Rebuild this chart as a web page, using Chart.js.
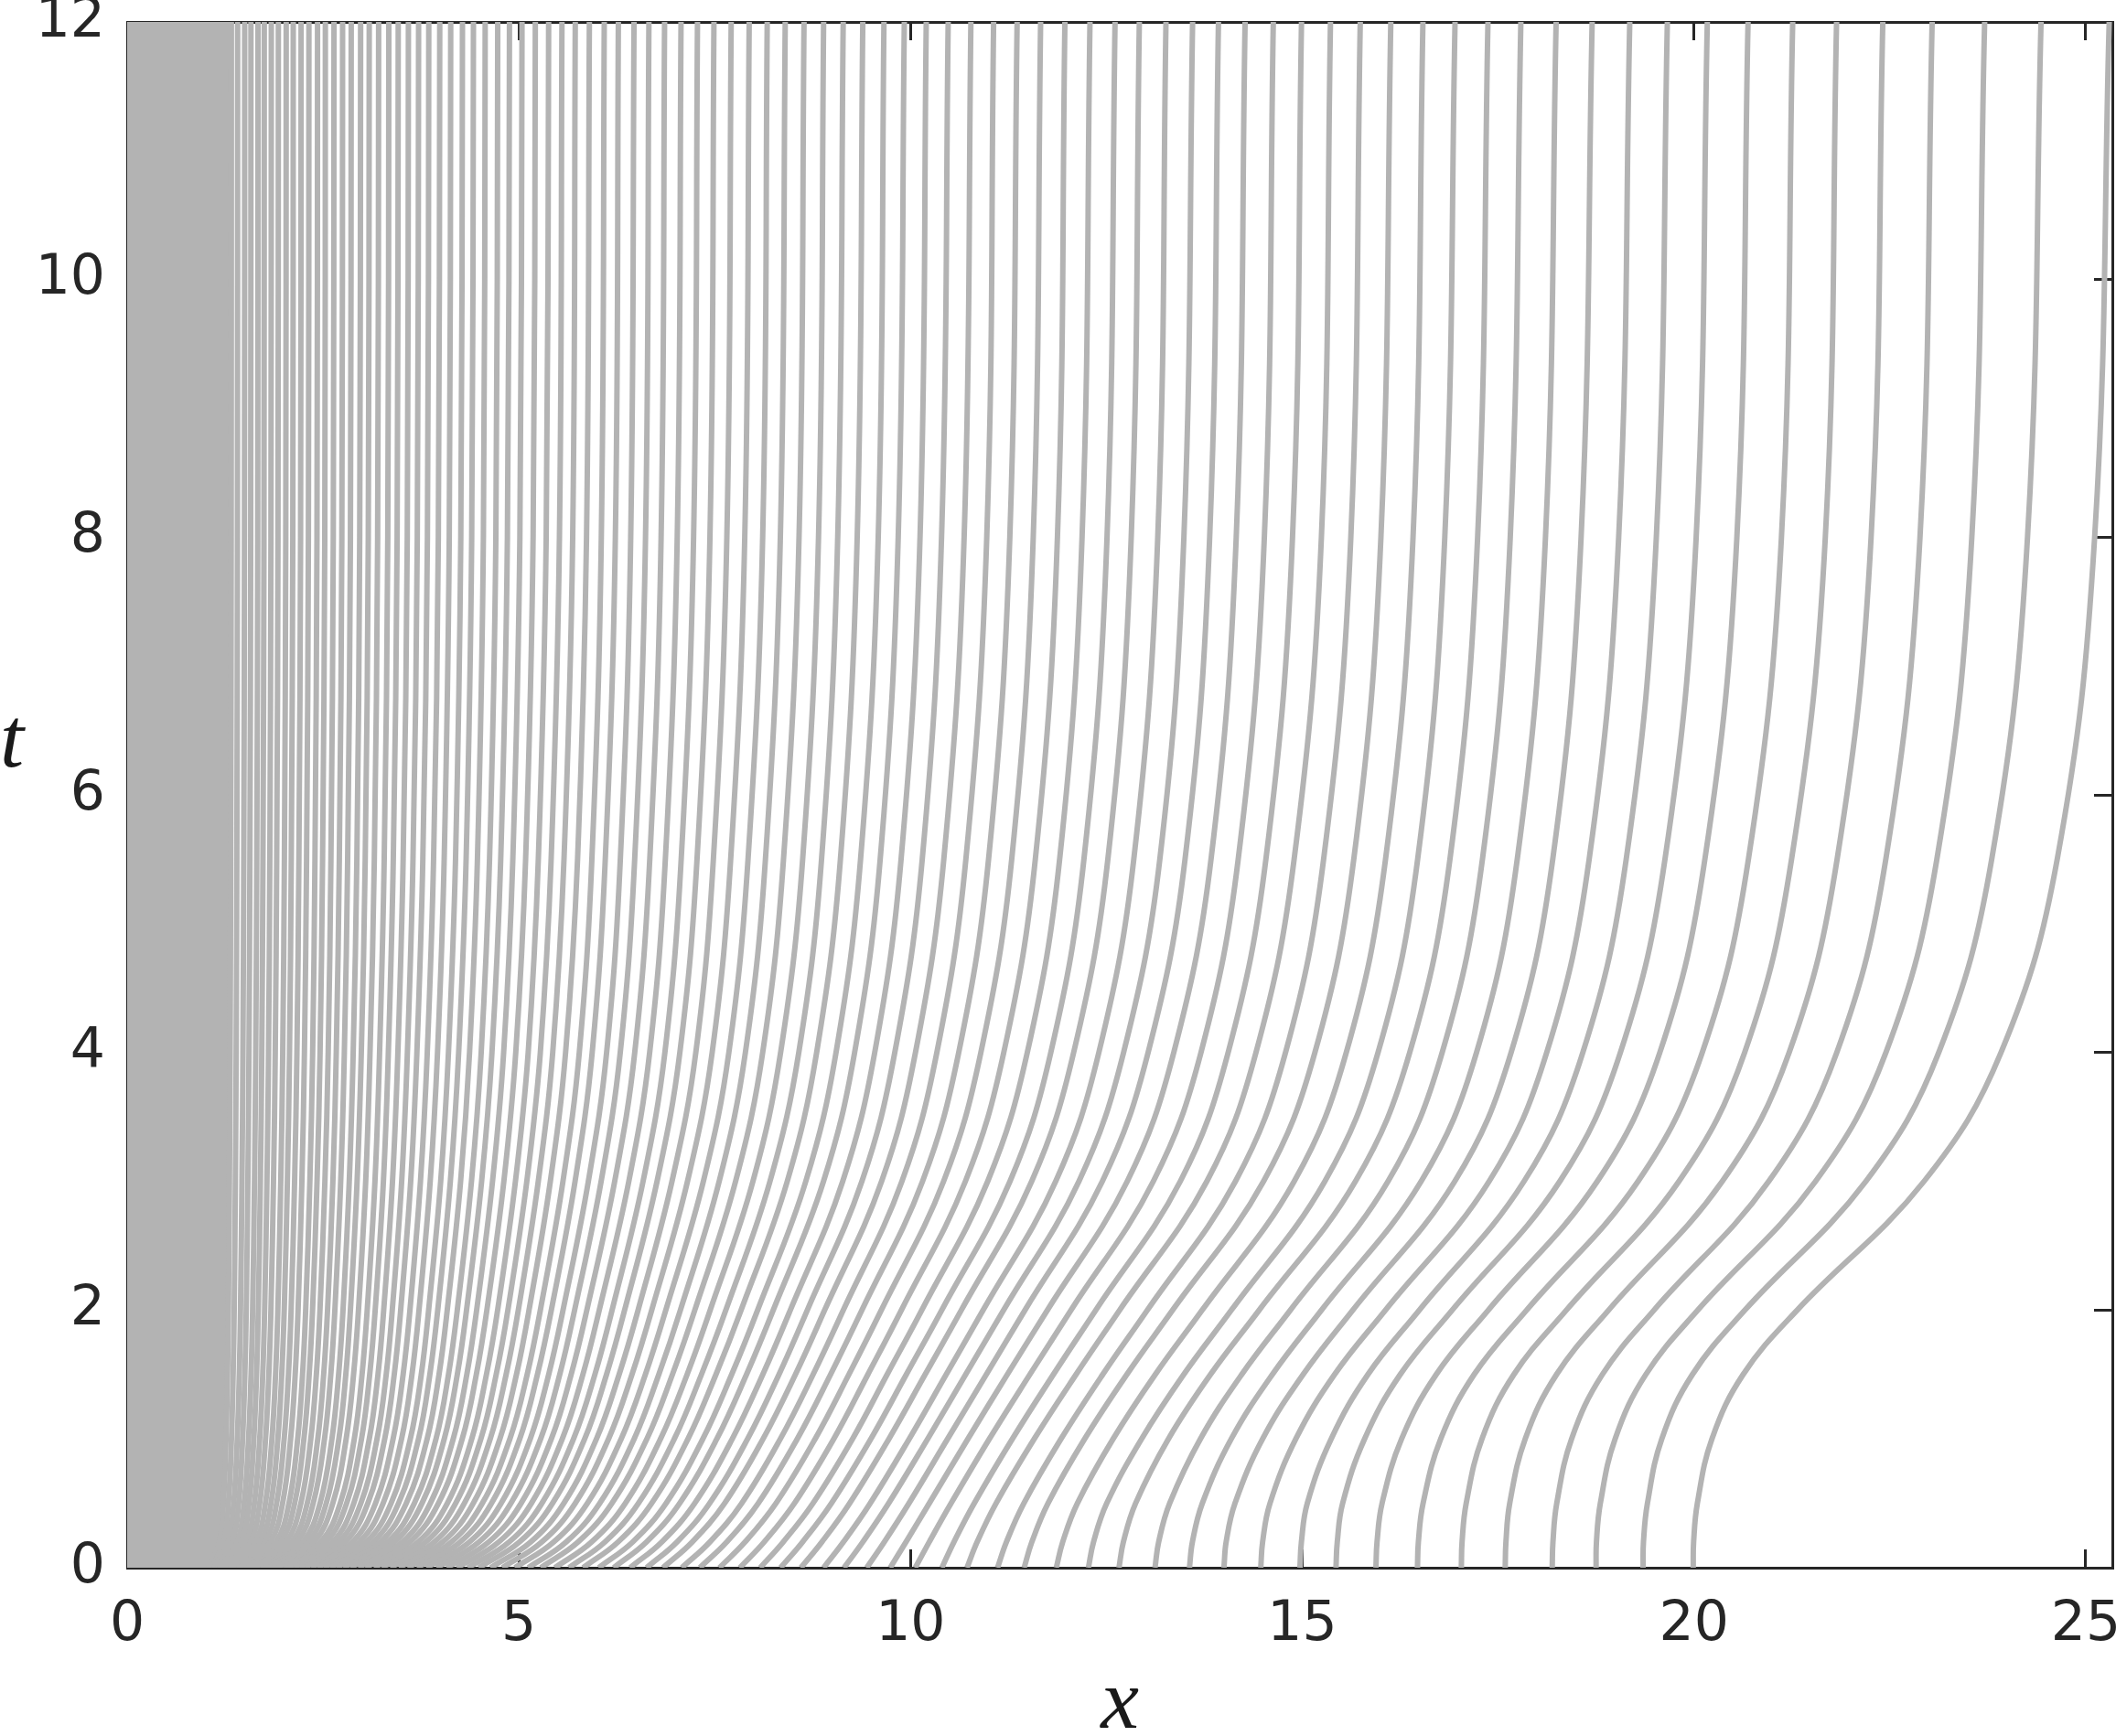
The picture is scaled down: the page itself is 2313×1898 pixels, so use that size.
<!DOCTYPE html>
<html lang="en">
<head>
<meta charset="UTF-8">
<title>Trajectories x(t)</title>
<script src="https://cdn.jsdelivr.net/npm/chart.js"></script>
<style>
  body { margin: 0; background: #fff; }
  .wrap { position: relative; width: 2313px; height: 1898px; }
  #tLabel { position: absolute; left: 0; top: 759px; font: italic 94px 'Liberation Serif', serif; line-height: 94px; color: #1a1a1a; }
</style>
</head>
<body>
<div class="wrap">
  <canvas id="chart" width="2313" height="1898"></canvas>
  <div id="tLabel">t</div>
</div>
<script>
// time levels where each curve is sampled
const tLevels = [0, 0.2, 0.5, 1, 1.5, 2, 3, 4, 5.5, 8, 12];

// x of every curve at t = 0 (read along the bottom axis)
const startX = [
  19.99, 19.35, 18.75, 18.19, 17.59, 17.03, 16.47, 15.94, 15.43, 14.97,
  14.47, 14.00, 13.56, 13.12, 12.66, 12.27, 11.86, 11.45, 11.11, 10.72,
  10.40, 10.06, 9.74, 9.44, 9.15, 8.89, 8.60, 8.34, 8.08, 7.82,
  7.56, 7.31, 7.08, 6.84, 6.63, 6.42, 6.21, 6.02, 5.82, 5.64,
  5.46, 5.28, 5.12, 4.95, 4.79, 4.64, 4.49, 4.35, 4.21, 4.08,
  3.95, 3.82, 3.70, 3.58, 3.47, 3.36, 3.25, 3.15, 3.04, 2.95,
  2.85, 2.76, 2.67, 2.59, 2.51, 2.43, 2.35, 2.27, 2.20, 2.13,
  2.06, 2.00, 1.93, 1.87, 1.81, 1.75, 1.70, 1.64, 1.59, 1.54,
  1.49, 1.44, 1.40, 1.35, 1.31, 1.27, 1.23, 1.19, 1.15, 1.11,
  1.08, 1.04
];

// x of the same curves at t = 12 (read along the top axis)
const endX = [
  25.30, 24.43, 23.71, 23.04, 22.41, 21.82, 21.26, 20.69, 20.17, 19.66,
  19.18, 18.70, 18.24, 17.79, 17.37, 16.95, 16.54, 16.13, 15.74, 15.36,
  14.99, 14.63, 14.27, 13.93, 13.60, 13.26, 12.92, 12.61, 12.29, 11.97,
  11.66, 11.36, 11.06, 10.77, 10.48, 10.20, 9.92, 9.66, 9.39, 9.14,
  8.89, 8.64, 8.40, 8.17, 7.94, 7.71, 7.49, 7.28, 7.07, 6.86,
  6.66, 6.47, 6.27, 6.09, 5.90, 5.72, 5.55, 5.38, 5.21, 5.04,
  4.88, 4.73, 4.57, 4.42, 4.28, 4.13, 3.99, 3.85, 3.72, 3.59,
  3.46, 3.34, 3.21, 3.09, 2.98, 2.86, 2.75, 2.64, 2.53, 2.43,
  2.32, 2.22, 2.12, 2.03, 1.93, 1.84, 1.75, 1.67, 1.58, 1.50,
  1.41, 1.33
];

// share of each curve's total shift already done at t = 0.2, 0.5, 1, 1.5, 2, 3, 4, 5.5, 8
const p02 = [
  .001, .001, .001, .002, .002, .002, .0025, .003, .0035, .004,
  .005, .006, .008, .010, .012, .014, .0175, .021, .0245, .028,
  .0335, .039, .0445, .050, .054, .058, .062, .066, .070, .075,
  .080, .085, .090, .095, .101, .107, .113, .119, .125, .131,
  .137, .142, .148, .154, .160, .167, .173, .180, .187, .193,
  .200, .208, .215, .223, .230, .238, .245, .253, .262, .270,
  .278, .287, .295, .301, .307, .314, .320, .326, .332, .339,
  .345, .352, .358, .365, .372, .378, .385, .392, .398, .405,
  .410, .416, .421, .427, .432, .437, .443, .448, .454, .459,
  .465, .470
];
const p05 = [
  .010, .011, .011, .012, .012, .013, .015, .0165, .018, .020,
  .025, .030, .035, .040, .045, .050, .0575, .065, .0725, .080,
  .090, .100, .110, .120, .128, .136, .144, .152, .160, .168,
  .176, .184, .192, .200, .209, .218, .227, .236, .245, .253,
  .262, .270, .278, .287, .295, .304, .313, .322, .332, .341,
  .350, .360, .370, .380, .390, .400, .410, .420, .430, .440,
  .450, .460, .470, .4775, .485, .4925, .500, .5075, .515, .5225,
  .530, .537, .543, .550, .557, .563, .570, .577, .583, .590,
  .595, .600, .605, .610, .615, .620, .625, .630, .635, .640,
  .645, .650
];
const p1 = [
  .045, .047, .049, .051, .053, .055, .062, .069, .077, .085,
  .095, .105, .114, .124, .134, .145, .155, .165, .175, .185,
  .196, .207, .219, .230, .240, .250, .260, .270, .280, .289,
  .298, .307, .316, .325, .335, .345, .355, .365, .375, .384,
  .393, .403, .412, .421, .430, .440, .450, .460, .470, .480,
  .490, .500, .510, .520, .530, .540, .550, .560, .570, .580,
  .590, .600, .610, .617, .624, .631, .637, .644, .651, .658,
  .665, .671, .676, .682, .687, .693, .698, .704, .709, .715,
  .719, .723, .727, .732, .736, .740, .744, .748, .753, .757,
  .761, .765
];
const p15 = [
  .120, .124, .128, .132, .136, .140, .151, .162, .173, .185,
  .200, .215, .226, .237, .248, .260, .270, .280, .290, .300,
  .310, .320, .330, .340, .349, .358, .367, .376, .385, .394,
  .403, .412, .421, .430, .439, .448, .457, .466, .475, .483,
  .492, .500, .508, .517, .525, .534, .543, .553, .562, .571,
  .580, .589, .598, .608, .617, .626, .635, .644, .653, .663,
  .672, .681, .690, .696, .703, .709, .715, .721, .728, .734,
  .740, .745, .750, .755, .760, .765, .770, .775, .780, .785,
  .789, .793, .796, .800, .804, .808, .811, .815, .819, .823,
  .826, .830
];
const p2 = [
  .250, .256, .262, .268, .274, .280, .291, .302, .313, .325,
  .338, .350, .360, .370, .380, .390, .398, .405, .413, .420,
  .428, .435, .443, .450, .458, .466, .474, .482, .490, .497,
  .504, .511, .518, .525, .533, .541, .549, .557, .565, .572,
  .578, .585, .592, .598, .605, .613, .620, .628, .635, .643,
  .650, .658, .667, .675, .683, .692, .700, .708, .715, .723,
  .730, .738, .745, .751, .756, .762, .768, .773, .779, .784,
  .790, .794, .799, .803, .808, .812, .817, .821, .826, .830,
  .833, .837, .840, .843, .847, .850, .853, .857, .860, .863,
  .867, .870
];
const p3 = [
  .555, .560, .565, .570, .575, .580, .588, .595, .603, .610,
  .619, .627, .632, .637, .641, .645, .649, .653, .656, .660,
  .663, .665, .668, .670, .674, .678, .682, .686, .690, .694,
  .698, .702, .706, .710, .714, .718, .722, .726, .730, .733,
  .737, .740, .743, .747, .750, .754, .758, .763, .767, .771,
  .775, .780, .785, .790, .795, .800, .805, .810, .815, .820,
  .825, .830, .835, .839, .843, .846, .850, .854, .858, .861,
  .865, .868, .871, .873, .876, .879, .882, .884, .887, .890,
  .892, .894, .896, .898, .900, .902, .905, .907, .909, .911,
  .913, .915
];
const p4 = [
  .740, .743, .746, .749, .752, .755, .759, .763, .766, .770,
  .775, .780, .783, .785, .788, .790, .791, .793, .794, .795,
  .796, .798, .799, .800, .802, .804, .806, .808, .810, .812,
  .814, .816, .818, .820, .823, .826, .829, .832, .835, .838,
  .840, .843, .845, .848, .850, .853, .855, .858, .860, .863,
  .865, .868, .870, .873, .875, .878, .880, .883, .885, .888,
  .890, .893, .895, .897, .899, .901, .903, .904, .906, .908,
  .910, .912, .914, .917, .919, .921, .923, .926, .928, .930,
  .931, .932, .934, .935, .936, .938, .939, .940, .941, .943,
  .944, .945
];
const p55 = [
  .875, .876, .877, .878, .879, .880, .882, .884, .886, .888,
  .890, .893, .894, .895, .897, .898, .898, .899, .899, .900,
  .901, .902, .904, .905, .906, .906, .907, .907, .908, .909,
  .910, .910, .911, .912, .914, .915, .917, .918, .920, .921,
  .922, .922, .923, .924, .925, .926, .928, .929, .930, .932,
  .933, .934, .935, .937, .938, .939, .940, .941, .943, .944,
  .945, .947, .948, .949, .950, .951, .952, .952, .953, .954,
  .955, .956, .957, .958, .959, .959, .960, .961, .962, .963,
  .964, .964, .965, .966, .966, .967, .968, .968, .969, .970,
  .970, .971
];
const p8 = [
  .965, .966, .967, .968, .969, .970, .970, .970, .970, .970,
  .970, .970, .971, .971, .972, .972, .973, .973, .974, .975,
  .975, .975, .975, .975, .975, .976, .976, .976, .976, .977,
  .977, .977, .978, .978, .978, .979, .979, .980, .980, .980,
  .981, .981, .981, .982, .982, .982, .983, .983, .983, .984,
  .984, .984, .985, .985, .985, .986, .986, .986, .987, .987,
  .987, .988, .988, .988, .988, .989, .989, .989, .989, .990,
  .990, .990, .990, .990, .990, .991, .991, .991, .992, .992,
  .992, .992, .992, .992, .992, .992, .993, .993, .993, .993,
  .993, .993
];

const lineColor = '#b3b3b3';
const axisColor = '#262626';

const last = startX.length - 1;
const datasets = startX.map((x0, i) => {
  const shares = [0, p02[i], p05[i], p1[i], p15[i], p2[i], p3[i], p4[i], p55[i], p8[i], 1];
  const shift = endX[i] - x0;
  return {
    data: tLevels.map((t, k) => ({ x: x0 + shift * shares[k], y: t })),
    borderColor: lineColor,
    borderWidth: 6,
    pointRadius: 0,
    tension: 0.4,
    // the packed curves near x = 0 merge into one solid band
    fill: i === last ? { value: 0 } : false,
    backgroundColor: lineColor
  };
});

const tickFont = { family: 'DejaVu Sans', size: 60 };
const boxGrid = { display: true, drawOnChartArea: false, drawTicks: true, tickLength: -20, color: axisColor, lineWidth: 3 };
const boxBorder = { display: true, color: axisColor, width: 3 };

new Chart(document.getElementById('chart'), {
  type: 'line',
  data: { datasets: datasets },
  options: {
    indexAxis: 'y',
    responsive: false,
    animation: false,
    events: [],
    layout: { padding: 0 },
    plugins: { legend: { display: false }, tooltip: { enabled: false } },
    scales: {
      x: {
        type: 'linear', position: 'bottom', min: 0, max: 25.34, z: 1,
        grid: boxGrid, border: boxBorder,
        ticks: { stepSize: 5, includeBounds: false, padding: 47, color: axisColor, font: tickFont, maxRotation: 0 },
        title: { display: true, text: 'x', color: '#1a1a1a', padding: { top: 0, bottom: 6 },
                 font: { family: 'Liberation Serif', style: 'italic', size: 94, lineHeight: 0.6 } },
        afterFit: s => { s.height = 184; s.paddingLeft = 0; s.paddingRight = 0; }
      },
      x2: {
        type: 'linear', position: 'top', min: 0, max: 25.34, z: 1,
        grid: boxGrid, border: boxBorder,
        ticks: { stepSize: 5, includeBounds: false, display: false },
        afterFit: s => { s.height = 24; s.paddingLeft = 0; s.paddingRight = 0; }
      },
      y: {
        type: 'linear', position: 'left', min: 0, max: 12, z: 1,
        grid: boxGrid, border: boxBorder,
        ticks: { stepSize: 2, padding: 44, color: axisColor, font: tickFont },
        afterFit: s => { s.width = 139; s.paddingTop = 0; s.paddingBottom = 0; }
      },
      y2: {
        type: 'linear', position: 'right', min: 0, max: 12, z: 1,
        grid: boxGrid, border: boxBorder,
        ticks: { stepSize: 2, display: false },
        afterFit: s => { s.width = 4; s.paddingTop = 0; s.paddingBottom = 0; }
      }
    }
  }
});
</script>
</body>
</html>
